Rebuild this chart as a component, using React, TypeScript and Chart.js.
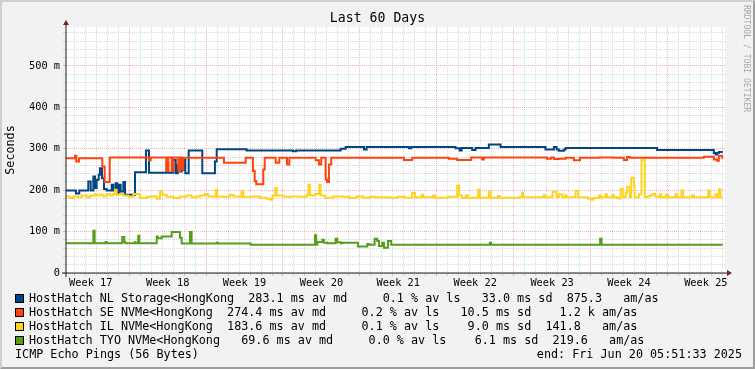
import { useEffect, useRef } from 'react';
import { Chart, registerables } from 'chart.js';

Chart.register(...registerables);

const W = 755;
const H = 369;
const DAY = 86400000;
const END_TIME = Date.UTC(2025, 5, 20, 5, 51, 33);
const SPAN_DAYS = 60;
const Y_MAX = 594;

const chartTitle = 'Last 60 Days';
const yAxisTitle = 'Seconds';
const watermark = 'RRDTOOL / TOBI OETIKER';
const footerLeft = 'ICMP Echo Pings (56 Bytes)';
const footerRight = 'end: Fri Jun 20 05:51:33 2025';

const weekLabels = ['Week 17', 'Week 18', 'Week 19', 'Week 20', 'Week 21', 'Week 22', 'Week 23', 'Week 24', 'Week 25'];
const yMajorTicks = [0, 100, 200, 300, 400, 500];
const yMinorStep = 20;

const seriesNames = [
  'HostHatch NL Storage<HongKong',
  'HostHatch SE NVMe<HongKong',
  'HostHatch IL NVMe<HongKong',
  'HostHatch TYO NVMe<HongKong',
];
const seriesColors = ['#004586', '#ff420e', '#ffd320', '#579d1c'];
const avgMedian = [283.1, 274.4, 183.6, 69.6];
const avgLoss = [0.1, 0.2, 0.1, 0.0];
const avgSd = [33.0, 10.5, 9.0, 6.1];
const avgAmAs = [875.3, 1200, 141.8, 219.6];

// [day since start, median ms] change points (value holds until next point)
const nlStorage: [number, number][] = [
  [0, 199], [0.91, 192], [1.21, 199], [2.03, 221], [2.25, 199], [2.49, 233], [2.64, 205], [2.79, 225],
  [2.98, 237], [3.09, 253], [3.28, 229], [3.46, 203], [3.7, 199], [4.16, 213], [4.31, 199], [4.52, 217],
  [4.67, 191], [4.85, 213], [4.98, 197], [5.22, 220], [5.37, 189], [6.28, 243], [7.28, 296], [7.56, 242],
  [9.17, 267], [9.31, 242], [9.77, 273], [9.99, 241], [10.17, 261], [10.31, 245], [10.53, 249], [10.68, 273],
  [10.86, 241], [11.17, 296], [12.41, 241], [13.56, 269], [13.72, 299], [16.45, 296], [20.66, 294], [20.94, 296],
  [25.0, 300], [25.46, 304], [27.13, 298], [27.37, 304], [31.22, 301], [31.43, 304], [35.47, 301], [35.84, 296],
  [36.02, 302], [36.98, 297], [37.29, 302], [38.5, 310], [39.57, 304], [43.66, 298], [44.42, 304], [44.67, 298],
  [44.88, 295], [45.33, 298], [45.49, 302], [53.82, 297], [58.98, 290], [59.14, 286], [59.28, 290], [59.44, 292],
  [59.8, 292],
];

const seNvme: [number, number][] = [
  [0, 277], [0.82, 283], [0.94, 269], [1.18, 277], [3.3, 257], [3.52, 220], [3.98, 279], [7.56, 272],
  [7.71, 279], [9.13, 246], [9.31, 279], [9.62, 246], [9.77, 279], [10.22, 246], [10.38, 279], [10.53, 250],
  [10.68, 278], [14.38, 266], [16.36, 278], [17.02, 246], [17.18, 222], [17.32, 214], [17.96, 250], [18.09, 278],
  [19.09, 266], [19.42, 278], [20.12, 262], [20.33, 278], [22.73, 272], [23.03, 262], [23.24, 278], [23.64, 226],
  [23.78, 220], [23.94, 262], [24.15, 278], [30.77, 273], [31.52, 278], [34.86, 276], [35.62, 273], [36.89, 279],
  [37.89, 274], [38.05, 279], [43.81, 276], [44.15, 279], [44.42, 275], [44.88, 276], [45.49, 278], [46.24, 272],
  [46.79, 278], [48.52, 279], [49.88, 278], [50.79, 273], [51.09, 280], [51.34, 278], [58.07, 281], [58.98, 274],
  [59.28, 271], [59.44, 283], [59.74, 278], [59.8, 278],
];

const ilNvme: [number, number][] = [
  [0, 185], [0.36, 181], [0.66, 185], [1.12, 183], [1.43, 187], [1.88, 183], [2.18, 187], [2.64, 191],
  [2.79, 187], [3.09, 189], [3.4, 185], [3.7, 191], [4.01, 187], [4.31, 191], [4.46, 201], [4.61, 189],
  [4.92, 191], [5.22, 187], [5.67, 184], [6.13, 191], [6.74, 181], [7.35, 184], [7.65, 185], [8.26, 179],
  [8.56, 197], [8.77, 189], [9.17, 184], [9.77, 181], [10.38, 185], [10.99, 187], [11.44, 183], [11.9, 185],
  [12.2, 187], [12.65, 191], [12.95, 185], [13.41, 184], [13.65, 201], [13.77, 185], [14.32, 184], [14.93, 189],
  [15.23, 185], [15.84, 184], [15.99, 197], [16.14, 184], [17.05, 185], [17.66, 182], [18.27, 179], [18.63, 177],
  [18.81, 187], [19.05, 205], [19.18, 187], [19.78, 184], [20.39, 185], [21.3, 184], [21.91, 189], [22.06, 213],
  [22.21, 187], [22.67, 191], [23.06, 213], [23.18, 187], [23.58, 182], [24.33, 185], [25.24, 184], [25.85, 181],
  [26.46, 185], [27.06, 182], [27.67, 184], [28.13, 183], [29.49, 182], [30.22, 184], [30.86, 182], [31.52, 193],
  [31.77, 183], [32.38, 189], [32.52, 183], [33.43, 187], [33.59, 182], [34.77, 184], [35.62, 211], [35.8, 187],
  [36.05, 182], [36.41, 187], [36.59, 182], [37.53, 201], [37.68, 182], [38.5, 196], [38.66, 182], [39.32, 186],
  [39.5, 182], [41.33, 184], [41.54, 194], [41.63, 183], [43.51, 188], [43.66, 183], [44.3, 196], [44.67, 183],
  [44.88, 190], [45.18, 183], [45.42, 188], [45.58, 183], [46.39, 198], [46.63, 183], [47.51, 180], [47.85, 177],
  [48.0, 181], [48.52, 187], [48.7, 183], [49.13, 190], [49.27, 183], [49.73, 188], [49.88, 183], [50.25, 180],
  [50.49, 203], [50.7, 183], [50.95, 194], [51.09, 208], [51.34, 183], [51.46, 230], [51.7, 210], [51.77, 183],
  [52.16, 190], [52.4, 273], [52.7, 183], [52.89, 185], [53.16, 188], [53.43, 191], [53.68, 184], [54.07, 190],
  [54.19, 183], [54.62, 189], [54.82, 183], [55.5, 190], [55.64, 183], [56.04, 199], [56.19, 183], [56.98, 188],
  [57.16, 183], [58.47, 199], [58.62, 183], [59.14, 190], [59.28, 183], [59.44, 202], [59.59, 183], [59.8, 183],
];

const tyoNvme: [number, number][] = [
  [0, 72], [2.49, 102], [2.61, 72], [3.61, 75], [3.7, 72], [5.12, 87], [5.31, 75], [5.4, 72],
  [6.25, 74], [6.34, 72], [6.58, 90], [6.67, 72], [8.26, 88], [8.35, 84], [8.71, 88], [9.62, 99],
  [10.38, 85], [10.53, 71], [11.29, 99], [11.44, 71], [13.72, 73], [13.84, 71], [16.81, 68], [22.67, 91],
  [22.78, 68], [22.87, 75], [23.33, 80], [23.48, 73], [23.78, 72], [24.55, 83], [24.7, 74], [25.0, 72],
  [25.15, 73], [26.58, 64], [27.43, 70], [27.58, 68], [28.1, 83], [28.34, 77], [28.49, 65], [28.79, 73],
  [28.95, 61], [29.31, 77], [29.61, 68], [38.59, 73], [38.71, 68], [48.63, 83], [48.76, 68], [59.8, 68],
];

const seriesData = [nlStorage, seNvme, ilNvme, tyoNvme];

const MONO = '"DejaVu Sans Mono", monospace';
const MINOR_GRID = 'rgba(143,143,143,0.34)';
const MAJOR_GRID = 'rgba(222,79,79,0.42)';

function fmt5(v: number) {
  return v.toFixed(1).padStart(5, ' ');
}
function fmtSi(v: number) {
  if (v >= 1000) return fmt5(v / 1000) + ' k';
  return fmt5(v) + '  ';
}
function legendLine(i: number) {
  return (
    seriesNames[i] + '  ' +
    fmt5(avgMedian[i]) + ' ms av md ' + '  ' +
    fmt5(avgLoss[i]) + ' % av ls' + '  ' +
    fmt5(avgSd[i]) + ' ms sd' + '  ' +
    fmtSi(avgAmAs[i]) + ' am/as'
  );
}

function buildXTicks() {
  const startMs = END_TIME - SPAN_DAYS * DAY;
  const ticks: any[] = [];
  for (let t = Math.ceil(startMs / DAY) * DAY; t < END_TIME; t += DAY) {
    ticks.push({ value: (t - startMs) / DAY, kind: new Date(t).getUTCDay() === 0 ? 'major' : 'minor' });
  }
  let sunday = Math.floor(startMs / DAY) * DAY;
  while (new Date(sunday).getUTCDay() !== 0) sunday -= DAY;
  weekLabels.forEach((lbl, j) => {
    ticks.push({ value: (sunday + (j * 7 + 3.5) * DAY - startMs) / DAY, kind: 'label', lbl });
  });
  ticks.sort((a, b) => a.value - b.value);
  return ticks;
}

function buildYTicks() {
  const ticks: any[] = [];
  const top = yMajorTicks[yMajorTicks.length - 1] + 100;
  for (let v = 0; v < Math.min(top, Y_MAX); v += yMinorStep) {
    ticks.push({ value: v, kind: yMajorTicks.includes(v) ? 'major' : 'minor' });
  }
  return ticks;
}

const decorPlugin = {
  id: 'rrdDecor',
  beforeDraw(chart: any) {
    const { ctx, chartArea: a } = chart;
    ctx.save();
    ctx.fillStyle = '#f2f2f2';
    ctx.fillRect(0, 0, W, H);
    ctx.fillStyle = '#cfcfcf';
    ctx.beginPath();
    ctx.moveTo(0, 0); ctx.lineTo(W, 0); ctx.lineTo(W - 2, 2); ctx.lineTo(2, 2); ctx.lineTo(2, H - 2); ctx.lineTo(0, H);
    ctx.closePath(); ctx.fill();
    ctx.fillStyle = '#9e9e9e';
    ctx.beginPath();
    ctx.moveTo(W, 0); ctx.lineTo(W, H); ctx.lineTo(0, H); ctx.lineTo(2, H - 2); ctx.lineTo(W - 2, H - 2); ctx.lineTo(W - 2, 2);
    ctx.closePath(); ctx.fill();
    ctx.fillStyle = '#ffffff';
    ctx.fillRect(a.left, a.top, a.right - a.left, a.bottom - a.top);
    ctx.restore();
  },
  afterDraw(chart: any) {
    const { ctx, chartArea: a } = chart;
    const x0 = Math.round(a.left);
    const y0 = Math.round(a.bottom);
    const x1 = Math.round(a.right);
    const yTop = Math.round(a.top);
    ctx.save();
    // axes
    ctx.strokeStyle = '#1f1f1f';
    ctx.lineWidth = 1;
    ctx.beginPath();
    ctx.moveTo(x0 - 4, y0); ctx.lineTo(x1 + 4, y0);
    ctx.moveTo(x0, y0 + 4); ctx.lineTo(x0, yTop - 4);
    ctx.stroke();
    // arrows
    ctx.fillStyle = '#801f1f';
    ctx.beginPath();
    ctx.moveTo(x1 + 2, y0 - 3); ctx.lineTo(x1 + 2, y0 + 3); ctx.lineTo(x1 + 7, y0); ctx.closePath(); ctx.fill();
    ctx.beginPath();
    ctx.moveTo(x0 - 3, yTop - 2); ctx.lineTo(x0 + 3, yTop - 2); ctx.lineTo(x0, yTop - 7); ctx.closePath(); ctx.fill();

    // title
    ctx.fillStyle = '#000';
    ctx.textBaseline = 'middle';
    ctx.textAlign = 'center';
    ctx.font = '13.2px ' + MONO;
    ctx.fillText(chartTitle, W / 2, 19);

    // y axis title
    ctx.save();
    ctx.translate(11, (a.top + a.bottom) / 2);
    ctx.rotate(-Math.PI / 2);
    ctx.font = '11.75px ' + MONO;
    ctx.fillText(yAxisTitle, 0, 0);
    ctx.restore();

    // legend
    ctx.font = '11.75px ' + MONO;
    ctx.textAlign = 'left';
    for (let i = 0; i < seriesNames.length; i++) {
      const cy = 299 + i * 14;
      ctx.fillStyle = seriesColors[i];
      ctx.fillRect(15, cy - 5, 9, 9);
      ctx.strokeStyle = '#000';
      ctx.lineWidth = 1;
      ctx.strokeRect(15.5, cy - 4.5, 8, 8);
      ctx.fillStyle = '#000';
      ctx.fillText(legendLine(i), 29, cy);
    }
    ctx.fillText(footerLeft, 15, 355);
    ctx.textAlign = 'right';
    ctx.fillText(footerRight, 742, 355);

    // watermark
    ctx.save();
    ctx.translate(746, 5);
    ctx.rotate(Math.PI / 2);
    ctx.textAlign = 'left';
    ctx.fillStyle = 'rgba(0,0,0,0.33)';
    ctx.font = '8.1px ' + MONO;
    ctx.fillText(watermark, 0, 0);
    ctx.restore();

    ctx.restore();
  },
};

export default function App() {
  const ref = useRef<HTMLCanvasElement | null>(null);

  useEffect(() => {
    document.body.style.margin = '0';
    const canvas = ref.current;
    if (!canvas) return;
    const xTicks = buildXTicks();
    const yTicks = buildYTicks();

    const chart = new Chart(canvas, {
      type: 'line',
      data: {
        datasets: seriesData.map((s, i) => ({
          label: seriesNames[i],
          data: s.map(([x, y]) => ({ x, y })),
          borderColor: seriesColors[i],
          backgroundColor: seriesColors[i],
          borderWidth: 2,
          pointRadius: 0,
          stepped: true,
          fill: false,
          order: seriesData.length - 1 - i,
        })),
      },
      options: {
        responsive: false,
        animation: false,
        devicePixelRatio: 1,
        events: [],
        layout: { padding: { left: 0, top: 27, right: 30, bottom: 76 } },
        plugins: {
          legend: { display: false },
          title: { display: false },
          tooltip: { enabled: false },
        },
        scales: {
          x: {
            type: 'linear',
            min: 0,
            max: SPAN_DAYS,
            afterBuildTicks: (s: any) => {
              s.ticks = xTicks.map((t) => ({ ...t }));
            },
            afterFit: (s: any) => {
              s.height = 20;
            },
            grid: {
              lineWidth: 1,
              tickLength: 3,
              color: (c: any) =>
                c.tick && c.tick.kind === 'major' ? MAJOR_GRID : c.tick && c.tick.kind === 'minor' ? MINOR_GRID : 'rgba(0,0,0,0)',
              tickColor: (c: any) =>
                c.tick && c.tick.kind === 'major' ? MAJOR_GRID : c.tick && c.tick.kind === 'minor' ? MINOR_GRID : 'rgba(0,0,0,0)',
            },
            border: { display: false, dash: [1, 1] },
            ticks: {
              autoSkip: false,
              maxRotation: 0,
              minRotation: 0,
              padding: 1,
              color: '#000',
              font: { family: MONO, size: 10.3 },
              callback: (_v: any, i: number, ticks: any[]) => (ticks[i] && ticks[i].lbl) || '',
            },
          },
          y: {
            type: 'linear',
            min: 0,
            max: Y_MAX,
            afterBuildTicks: (s: any) => {
              s.ticks = yTicks.map((t) => ({ ...t }));
            },
            afterFit: (s: any) => {
              s.width = 66;
            },
            grid: {
              lineWidth: 1,
              tickLength: 3,
              color: (c: any) => (c.tick && c.tick.kind === 'major' ? MAJOR_GRID : MINOR_GRID),
              tickColor: (c: any) => (c.tick && c.tick.kind === 'major' ? MAJOR_GRID : MINOR_GRID),
            },
            border: { display: false, dash: [1, 1] },
            ticks: {
              autoSkip: false,
              padding: 3,
              color: '#000',
              font: { family: MONO, size: 10.3 },
              callback: (v: any) => {
                const n = Number(v);
                if (!yMajorTicks.includes(n)) return '';
                return n === 0 ? '0' : `${n} m`;
              },
            },
          },
        },
      },
      plugins: [decorPlugin],
    } as any);

    return () => chart.destroy();
  }, []);

  return <canvas ref={ref} width={W} height={H} style={{ display: 'block', width: W, height: H }} />;
}
